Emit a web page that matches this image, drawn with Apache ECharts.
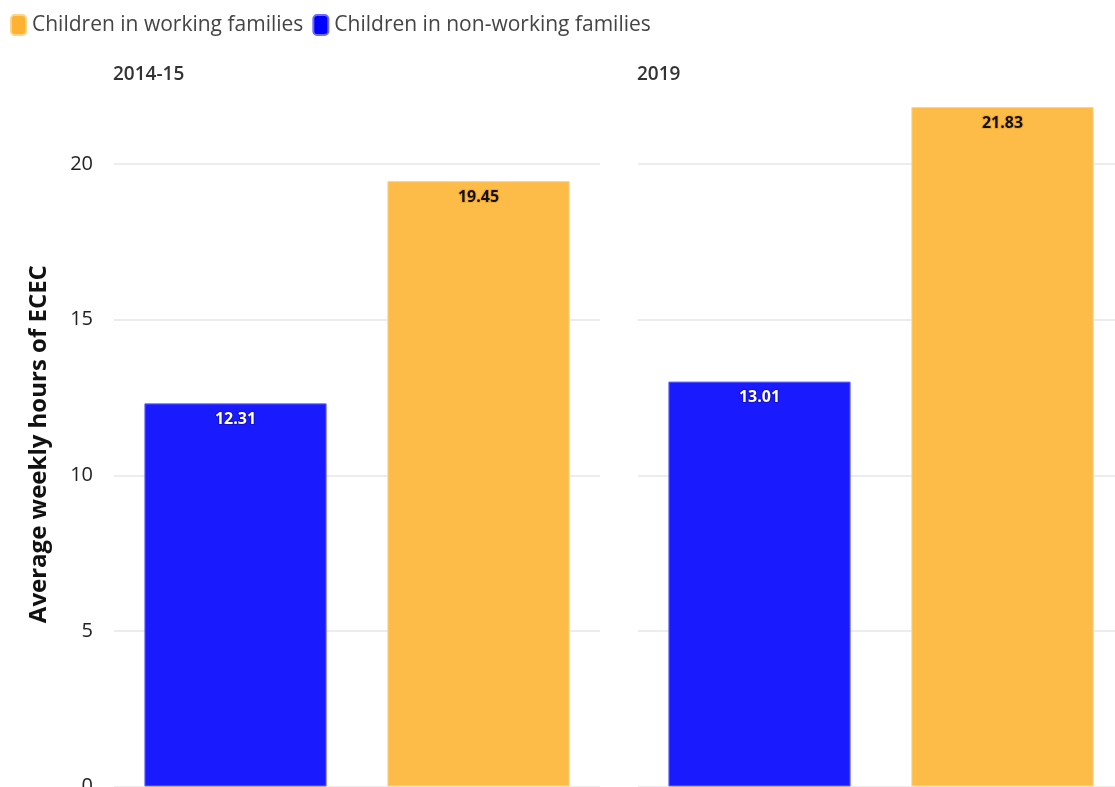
<!DOCTYPE html>
<html>
<head>
<meta charset="utf-8">
<title>Average weekly hours of ECEC</title>
<script src="https://cdn.jsdelivr.net/npm/echarts@6/dist/echarts.min.js"></script>
<style>
  html, body { margin: 0; padding: 0; background: #fff; }
  #chart { width: 1115px; height: 787px; }
</style>
</head>
<body>
<div id="chart"></div>
<script>
// Panels (survey years) and the two family groups shown in each
const panels = ['2014-15', '2019'];
const groups = ['Children in non-working families', 'Children in working families'];
const legendOrder = ['Children in working families', 'Children in non-working families'];

// Average weekly hours of ECEC per panel
const nonWorkingHours = [12.31, 13.01];
const workingHours = [19.45, 21.83];

const yTicks = { min: 0, max: 22, interval: 5 };

const BLUE = '#1a1aff';
const ORANGE = '#fdbb47';
const FONT = '"Open Sans", Lato, sans-serif';

const chart = echarts.init(document.getElementById('chart'), null, { renderer: 'canvas' });

const gridTop = 101.75;
const gridHeight = 684.75;
const gridLefts = [114, 638];
const gridWidth = 486;

const grids = [], xAxes = [], yAxes = [], titles = [], series = [];

panels.forEach((p, i) => {
  grids.push({
    left: gridLefts[i], top: gridTop, width: gridWidth, height: gridHeight,
    containLabel: false, outerBoundsMode: 'none'
  });
  titles.push({
    text: p, left: gridLefts[i] - 1, top: 65, padding: 0,
    textStyle: { fontFamily: FONT, fontSize: 19, fontWeight: 600, color: '#333' }
  });
  xAxes.push({
    type: 'category', gridIndex: i, data: groups,
    axisLine: { show: false }, axisTick: { show: false }, axisLabel: { show: false }
  });
  yAxes.push({
    type: 'value', gridIndex: i,
    min: yTicks.min, max: yTicks.max, interval: yTicks.interval,
    name: i === 0 ? 'Average weekly hours of ECEC' : '',
    nameLocation: 'middle', nameGap: 63,
    nameTextStyle: { fontFamily: FONT, fontSize: 24, fontWeight: 'bold', color: '#111' },
    axisLine: { show: false }, axisTick: { show: false },
    axisLabel: { show: i === 0, showMaxLabel: false, margin: 21, fontFamily: FONT, fontSize: 20, color: '#222' },
    splitLine: { show: true, showMaxLine: false, lineStyle: { color: '#ececec', width: 2 } }
  });

  series.push({
    name: 'Children in non-working families', type: 'bar',
    xAxisIndex: i, yAxisIndex: i,
    data: [nonWorkingHours[i], '-'],
    barWidth: '75%', barGap: '-100%',
    itemStyle: { color: BLUE, borderColor: '#6c6cff', borderWidth: 1 },
    label: {
      show: true, position: 'insideTop', distance: 8,
      fontFamily: FONT, fontSize: 16, fontWeight: 'bold',
      color: '#fff', textBorderColor: '#1212c8', textBorderWidth: 2,
      formatter: (d) => d.value.toFixed(2)
    }
  });
  series.push({
    name: 'Children in working families', type: 'bar',
    xAxisIndex: i, yAxisIndex: i,
    data: ['-', workingHours[i]],
    barWidth: '75%', barGap: '-100%',
    itemStyle: { color: ORANGE, borderColor: '#fdd48a', borderWidth: 1 },
    label: {
      show: true, position: 'insideTop', distance: 8,
      fontFamily: FONT, fontSize: 16, fontWeight: 'bold',
      color: '#111', textBorderColor: '#f3a82e', textBorderWidth: 2,
      formatter: (d) => d.value.toFixed(2)
    }
  });
});

chart.setOption({
  backgroundColor: '#fff',
  animation: false,
  color: [BLUE, ORANGE],
  title: titles,
  legend: {
    data: [
      { name: legendOrder[0], itemStyle: { color: '#fdb232' } },
      { name: legendOrder[1], itemStyle: { color: '#0000ff' } }
    ],
    left: 5, top: 9,
    icon: 'roundRect', itemWidth: 15, itemHeight: 20, itemGap: 9,
    textStyle: { fontFamily: FONT, fontSize: 21, color: '#444', padding: [0, 0, 0, 1] }
  },
  grid: grids,
  xAxis: xAxes,
  yAxis: yAxes,
  series: series
});
</script>
</body>
</html>
